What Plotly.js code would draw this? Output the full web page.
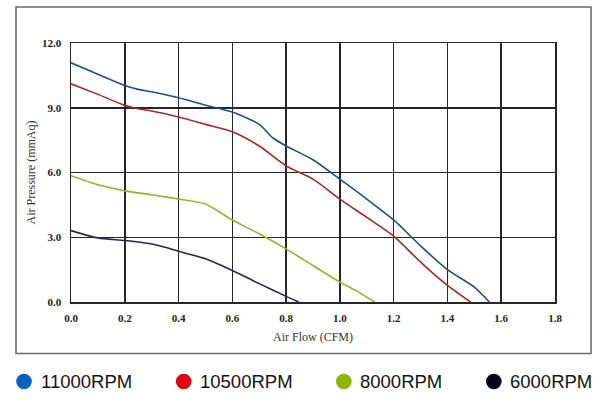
<!DOCTYPE html>
<html>
<head>
<meta charset="utf-8">
<script src="https://cdn.plot.ly/plotly-3.0.1.min.js"></script>
<style>
  html, body { margin: 0; padding: 0; background: #ffffff; }
  #chart { width: 609px; height: 407px; }
</style>
</head>
<body>
<div id="chart"></div>
<script>
// ---- data ----
const seriesNames = ["11000RPM", "10500RPM", "8000RPM", "6000RPM"];

const flow11000 = [0, 0.1, 0.2, 0.25, 0.3, 0.4, 0.5, 0.6, 0.7, 0.75, 0.8, 0.9, 1.0, 1.1, 1.2, 1.267, 1.3, 1.4, 1.5, 1.556];
const pres11000 = [11.08, 10.55, 10.03, 9.85, 9.74, 9.46, 9.12, 8.80, 8.23, 7.61, 7.23, 6.59, 5.69, 4.77, 3.80, 3.0, 2.6, 1.50, 0.69, 0];

const flow10500 = [0, 0.1, 0.2, 0.25, 0.3, 0.4, 0.5, 0.6, 0.7, 0.8, 0.9, 1.0, 1.1, 1.2, 1.3, 1.4, 1.486];
const pres10500 = [10.11, 9.62, 9.11, 8.95, 8.85, 8.57, 8.23, 7.89, 7.23, 6.31, 5.69, 4.77, 3.92, 3.05, 1.85, 0.77, 0];

const flow8000 = [0, 0.1, 0.2, 0.3, 0.4, 0.5, 0.6, 0.7, 0.8, 0.9, 1.0, 1.07, 1.129];
const pres8000 = [5.85, 5.43, 5.15, 4.97, 4.77, 4.54, 3.80, 3.16, 2.46, 1.69, 0.92, 0.46, 0];

const flow6000 = [0, 0.1, 0.2, 0.3, 0.35, 0.4, 0.5, 0.6, 0.7, 0.8, 0.847];
const pres6000 = [3.31, 2.97, 2.85, 2.69, 2.54, 2.35, 2.0, 1.46, 0.85, 0.26, 0];

const xTickVals = [0, 0.2, 0.4, 0.6, 0.8, 1.0, 1.2, 1.4, 1.6, 1.8];
const xTickText = ["0.0", "0.2", "0.4", "0.6", "0.8", "1.0", "1.2", "1.4", "1.6", "1.8"];
const yTickVals = [0, 3, 6, 9, 12];
const yTickText = ["0.0", "3.0", "6.0", "9.0", "12.0"];

// ---- styles ----
const lineColors = ["#1f4f8f", "#a52a27", "#8cb82c", "#2b2652"];
const dotColors  = ["#0b63bf", "#e0000f", "#8ab800", "#06061a"];

const flows = [flow11000, flow10500, flow8000, flow6000];
const pressures = [pres11000, pres10500, pres8000, pres6000];

const traces = seriesNames.map((name, i) => ({
  type: "scatter",
  mode: "lines",
  name: name,
  x: flows[i],
  y: pressures[i],
  line: { color: lineColors[i], width: 1.6, shape: "spline", smoothing: 0.7 },
  showlegend: false,
  hoverinfo: "skip"
}));

// geometry
const W = 609, H = 407;
const mL = 71, mR = 54, mT = 43, mB = 105;
const pw = W - mL - mR, ph = H - mT - mB;
const px = v => (v - mL) / pw;          // page pixel -> paper x
const py = v => (H - mB - v) / ph;      // page pixel -> paper y

const shapes = [{
  type: "rect", xref: "paper", yref: "paper", layer: "below",
  x0: px(16), x1: px(591), y0: py(353.5), y1: py(7),
  line: { color: "#6a6a6a", width: 1.6 }, fillcolor: "rgba(0,0,0,0)"
}];
const annotations = [];
const legendCenters = [24, 183.7, 343.8, 493.8];
const legendY = 381.5;
seriesNames.forEach((name, i) => {
  shapes.push({
    type: "circle", xref: "paper", yref: "paper",
    xsizemode: "pixel", ysizemode: "pixel",
    xanchor: px(legendCenters[i]), yanchor: py(legendY),
    x0: -7.8, x1: 7.8, y0: -7.8, y1: 7.8,
    fillcolor: dotColors[i], line: { width: 0 }
  });
  annotations.push({
    xref: "paper", yref: "paper",
    x: px(legendCenters[i] + 14.5), y: py(legendY),
    xanchor: "left", yanchor: "middle", showarrow: false,
    text: name,
    font: { family: "Liberation Sans, Arial, sans-serif", size: 18.5, color: "#141414" }
  });
});

const tickFont = { family: "Liberation Serif, DejaVu Serif, serif", size: 11, color: "#222", weight: "bold" };
const titleFont = { family: "Liberation Serif, DejaVu Serif, serif", size: 12, color: "#333" };

const layout = {
  width: W, height: H,
  margin: { l: mL, r: mR, t: mT, b: mB, pad: 0 },
  paper_bgcolor: "#ffffff",
  plot_bgcolor: "#ffffff",
  showlegend: false,
  xaxis: {
    range: [0, 1.8],
    tickmode: "array", tickvals: xTickVals, ticktext: xTickText,
    ticks: "outside", ticklen: 5, tickcolor: "rgba(0,0,0,0)",
    showgrid: true, gridcolor: "#262626", gridwidth: 1.5,
    zeroline: false,
    showline: true, mirror: true, linecolor: "#262626", linewidth: 1.5,
    tickfont: tickFont,
    title: { text: "Air Flow (CFM)", font: titleFont, standoff: 10 },
    automargin: false, fixedrange: true
  },
  yaxis: {
    range: [0, 12],
    tickmode: "array", tickvals: yTickVals, ticktext: yTickText,
    ticks: "outside", ticklen: 6, tickcolor: "rgba(0,0,0,0)",
    showgrid: true, gridcolor: "#262626", gridwidth: 1.5,
    zeroline: false,
    showline: true, mirror: true, linecolor: "#262626", linewidth: 1.5,
    tickfont: tickFont,
    title: { text: "Air Pressure (mmAq)", font: titleFont, standoff: 4 },
    automargin: false, fixedrange: true
  },
  shapes: shapes,
  annotations: annotations
};

Plotly.newPlot("chart", traces, layout, { displayModeBar: false, staticPlot: true });
</script>
</body>
</html>
